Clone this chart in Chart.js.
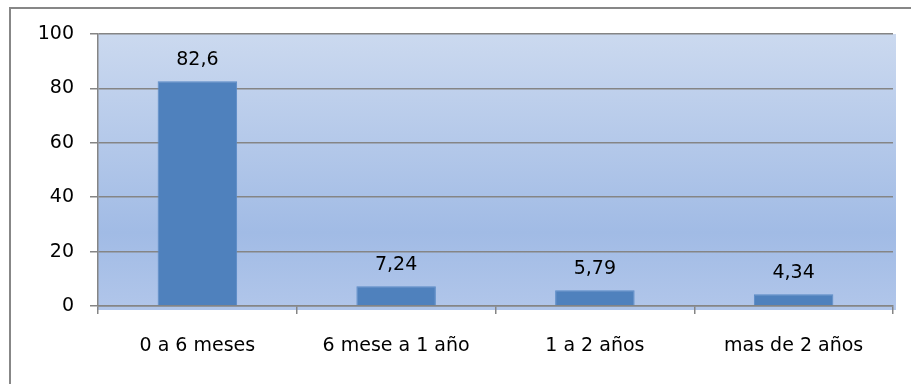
<!DOCTYPE html>
<html>
<head>
<meta charset="utf-8">
<script src="https://cdn.jsdelivr.net/npm/chart.js@4/dist/chart.umd.min.js"></script>
<style>
  html,body{margin:0;padding:0;background:#fff;overflow:hidden;}
  #frame{position:absolute;left:9px;top:7px;width:1000px;height:600px;border:2px solid #878787;}
  #wrap{position:absolute;left:0;top:0;width:911px;height:384px;}
</style>
</head>
<body>
<div id="frame"></div>
<div id="wrap"><canvas id="c" width="911" height="384"></canvas></div>
<script>
// categories and values
const categorias = ['0 a 6 meses', '6 mese a 1 año', '1 a 2 años', 'mas de 2 años'];
const valores = [82.6, 7.24, 5.79, 4.34];
const yTicks = [0, 20, 40, 60, 80, 100];

const FONT = {family: '"DejaVu Sans", sans-serif', size: 19};
const AXIS = '#858585';

// gradient plot background, runs a little past the axes like the original
const plotBg = {
  id: 'plotBg',
  beforeDraw(chart){
    const {ctx, chartArea:a} = chart;
    const g = ctx.createLinearGradient(0, a.top, 0, a.bottom + 4);
    g.addColorStop(0, '#cbd9ef');
    g.addColorStop(0.72, '#a1bbe5');
    g.addColorStop(1, '#b1c6ea');
    ctx.save();
    ctx.fillStyle = g;
    ctx.fillRect(a.left, a.top, a.right - a.left + 3, a.bottom - a.top + 4);
    ctx.restore();
  }
};

// value labels above each bar, comma decimals
const valueLabels = {
  id: 'valueLabels',
  afterDatasetsDraw(chart){
    const {ctx} = chart;
    const meta = chart.getDatasetMeta(0);
    ctx.save();
    ctx.font = FONT.size + 'px ' + FONT.family;
    ctx.fillStyle = '#000';
    ctx.textAlign = 'center';
    ctx.textBaseline = 'alphabetic';
    meta.data.forEach((bar, i)=>{
      const txt = String(valores[i]).replace('.', ',');
      ctx.fillText(txt, bar.x, bar.y - 16);
    });
    ctx.restore();
  }
};

new Chart(document.getElementById('c'), {
  type: 'bar',
  data: {
    labels: categorias,
    datasets: [{
      data: valores,
      backgroundColor: '#4f81bd',
      borderColor: '#5a8bc6',
      borderWidth: 1,
      categoryPercentage: 1,
      barPercentage: 0.4
    }]
  },
  options: {
    responsive: false,
    animation: false,
    layout: {padding: {top: 34, right: 18, bottom: 0, left: 0}},
    plugins: {legend: {display: false}, tooltip: {enabled: false}},
    scales: {
      x: {
        grid: {offset: true, drawOnChartArea: false, drawTicks: true, tickLength: 8, color: AXIS, lineWidth: 1.5},
        border: {color: AXIS, width: 1.5},
        ticks: {font: FONT, color: '#000', padding: 21, maxRotation: 0},
        afterFit(s){ s.height = 78; }
      },
      y: {
        min: 0, max: 100,
        afterBuildTicks(s){ s.ticks = yTicks.map(v=>({value: v})); },
        grid: {color: AXIS, tickLength: 8, lineWidth: 1.5},
        border: {color: AXIS, width: 1.5},
        ticks: {font: FONT, color: '#000', padding: 16},
        afterFit(s){ s.width = 98; }
      }
    }
  },
  plugins: [plotBg, valueLabels]
});
</script>
</body>
</html>
